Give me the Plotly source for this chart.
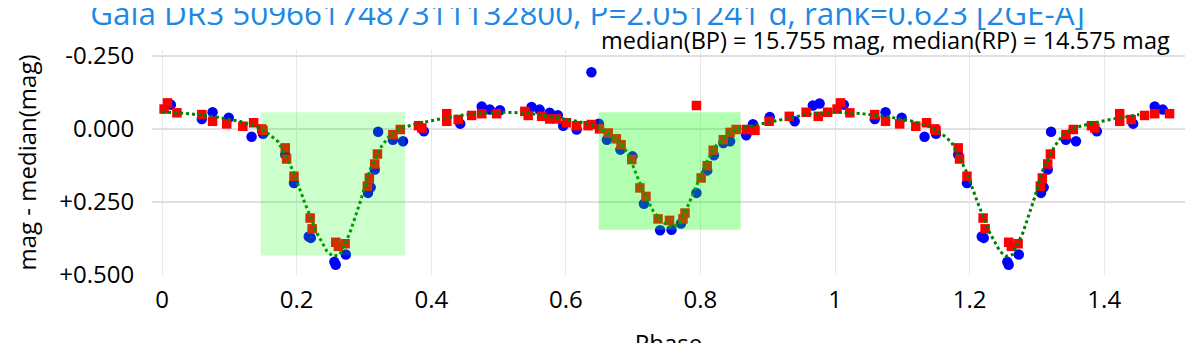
import plotly.graph_objects as go

# BP (blue) photometry, phase in [0, 1)
bp_phase = [0.013, 0.059, 0.075, 0.099, 0.133, 0.150, 0.183, 0.196, 0.218, 0.221,
            0.256, 0.258, 0.273, 0.306, 0.310, 0.316, 0.321, 0.343, 0.358, 0.389,
            0.443, 0.475, 0.487, 0.502, 0.549, 0.561, 0.576, 0.588, 0.596, 0.616,
            0.638, 0.649, 0.661, 0.681, 0.699, 0.716, 0.740, 0.757, 0.771, 0.794,
            0.810, 0.820, 0.834, 0.844, 0.868, 0.878, 0.903, 0.940, 0.967, 0.977]
bp_mag = [-0.083, -0.034, -0.057, -0.038, 0.027, 0.017, 0.088, 0.185, 0.368, 0.373,
          0.455, 0.465, 0.430, 0.219, 0.200, 0.139, 0.010, 0.037, 0.042, 0.008,
          -0.018, -0.077, -0.066, -0.064, -0.075, -0.066, -0.055, -0.047, -0.011, 0.002,
          -0.194, -0.018, 0.037, 0.071, 0.094, 0.256, 0.347, 0.345, 0.324, 0.219,
          0.142, 0.090, 0.048, 0.042, 0.022, -0.016, -0.041, -0.026, -0.080, -0.087]

# RP (red) photometry
rp_phase = [0.003, 0.008, 0.022, 0.059, 0.075, 0.096, 0.120, 0.136, 0.148, 0.150,
            0.183, 0.185, 0.196, 0.220, 0.223, 0.258, 0.262, 0.272, 0.305, 0.308,
            0.316, 0.320, 0.343, 0.354, 0.381, 0.386, 0.423, 0.423, 0.440, 0.460,
            0.475, 0.497, 0.539, 0.544, 0.564, 0.576, 0.586, 0.601, 0.616, 0.633,
            0.638, 0.650, 0.663, 0.675, 0.682, 0.698, 0.710, 0.719, 0.737, 0.754,
            0.774, 0.777, 0.794, 0.801, 0.810, 0.819, 0.834, 0.844, 0.853, 0.868,
            0.881, 0.902, 0.932, 0.957, 0.975, 0.989]
rp_mag = [-0.068, -0.089, -0.055, -0.049, -0.026, -0.017, -0.009, -0.021, 0.000, 0.005,
          0.065, 0.103, 0.162, 0.305, 0.342, 0.388, 0.402, 0.393, 0.196, 0.168,
          0.120, 0.086, 0.020, 0.002, -0.011, -0.003, -0.052, -0.026, -0.032, -0.046,
          -0.052, -0.052, -0.060, -0.046, -0.043, -0.034, -0.034, -0.021, -0.011, -0.011,
          -0.015, 0.000, 0.014, 0.034, 0.054, 0.105, 0.202, 0.231, 0.308, 0.313,
          0.308, 0.288, -0.080, 0.168, 0.126, 0.073, 0.037, 0.012, 0.002, 0.002,
          0.005, -0.026, -0.043, -0.057, -0.043, -0.057]

# model curve (dotted green)
model_phase = [0.000, 0.040, 0.080, 0.115, 0.145, 0.160, 0.173, 0.180, 0.195, 0.212,
               0.230, 0.245, 0.254, 0.264, 0.279, 0.294, 0.309, 0.326, 0.339, 0.353,
               0.383, 0.413, 0.452, 0.502, 0.541, 0.576, 0.616, 0.645, 0.665, 0.680,
               0.692, 0.705, 0.717, 0.730, 0.742, 0.754, 0.767, 0.779, 0.791, 0.801,
               0.811, 0.824, 0.839, 0.853, 0.873, 0.908, 0.957, 1.000]
model_mag = [-0.058, -0.052, -0.041, -0.026, -0.004, 0.020, 0.045, 0.078, 0.145, 0.253,
             0.356, 0.419, 0.436, 0.430, 0.356, 0.253, 0.139, 0.060, 0.020, -0.002,
             -0.020, -0.034, -0.049, -0.057, -0.055, -0.043, -0.026, -0.009, 0.020, 0.048,
             0.082, 0.157, 0.225, 0.282, 0.316, 0.334, 0.328, 0.276, 0.208, 0.157,
             0.105, 0.054, 0.020, 0.002, -0.009, -0.026, -0.049, -0.058]

# eclipse windows
ecl1 = (0.1466, 0.3612, -0.057, 0.433)
ecl2 = (0.6489, 0.8597, -0.057, 0.345)

ytick_vals = [-0.25, 0.0, 0.25, 0.5]
ytick_text = ["-0.250", "0.000", "+0.250", "+0.500"]


def extend(ph, mg, start=0.0):
    # repeat the first half cycle after phase 1
    xs = list(ph) + [p + 1 for p in ph if start < p + 1e-9 and p <= 0.5]
    ys = list(mg) + [m for p, m in zip(ph, mg) if start < p + 1e-9 and p <= 0.5]
    return xs, ys


bx, by = extend(bp_phase, bp_mag)
rx, ry = extend(rp_phase, rp_mag)
mx, my = extend(model_phase, model_mag, start=0.001)

fig = go.Figure()
fig.add_trace(go.Scatter(x=bx, y=by, mode="markers", name="BP",
                         marker=dict(color="#0000ff", size=10.5, symbol="circle")))
fig.add_trace(go.Scatter(x=rx, y=ry, mode="markers", name="RP",
                         marker=dict(color="#ff0000", size=9.5, symbol="square")))
fig.add_trace(go.Scatter(x=mx, y=my, mode="lines", name="model",
                         line=dict(color="#008000", width=3, dash="dot")))

fig.add_shape(type="rect", xref="x", yref="y", x0=ecl1[0], x1=ecl1[1], y0=ecl1[2], y1=ecl1[3],
              fillcolor="rgba(0,255,0,0.2)", line=dict(width=0), layer="above")
fig.add_shape(type="rect", xref="x", yref="y", x0=ecl2[0], x1=ecl2[1], y0=ecl2[2], y1=ecl2[3],
              fillcolor="rgba(0,255,0,0.3)", line=dict(width=0), layer="above")

fig.add_annotation(text="median(BP) = 15.755 mag, median(RP) = 14.575 mag",
                   xref="paper", yref="paper", x=0.987, y=1.044,
                   xanchor="right", yanchor="middle", showarrow=False,
                   font=dict(size=23.5, color="black"))

fig.update_layout(
    width=1204, height=351,
    margin=dict(l=144, r=27, t=42, b=84),
    paper_bgcolor="white", plot_bgcolor="white",
    showlegend=False,
    font=dict(family="Open Sans", size=24, color="black"),
    title=dict(text="Gaia DR3 5096617487311132800, P=2.051241 d, rank=0.623 [2GE-A]",
               x=0.4813, xanchor="center", y=0.9823, yanchor="middle", yref="container",
               font=dict(size=31.4, color="#1E88E5")),
)
fig.update_xaxes(range=[-0.015, 1.52], tickvals=[0, 0.2, 0.4, 0.6, 0.8, 1, 1.2, 1.4],
                 ticktext=["0", "0.2", "0.4", "0.6", "0.8", "1", "1.2", "1.4"],
                 showgrid=True, gridcolor="#e8e8e8", gridwidth=1, zeroline=False,
                 showline=False, automargin=False,
                 ticks="outside", ticklen=3, tickcolor="white",
                 title=dict(text="Phase", standoff=32, font=dict(size=24)))
fig.update_yaxes(range=[0.5, -0.27], tickvals=ytick_vals, ticktext=ytick_text,
                 showgrid=True, gridcolor="#e0e0e0", gridwidth=2, zeroline=False,
                 showline=False, automargin=False,
                 ticks="outside", ticklen=12, tickcolor="white",
                 title=dict(text="mag - median(mag)", font=dict(size=24)))

fig.write_html("out.html")
